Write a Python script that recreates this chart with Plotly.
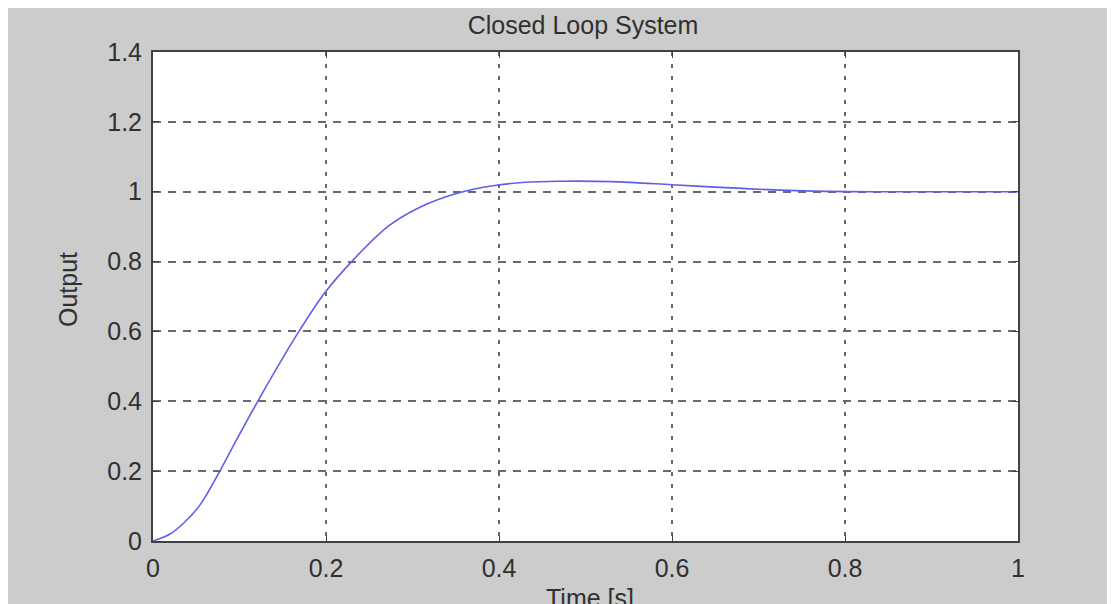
import plotly.graph_objects as go

# Step response
time_s = [0.0, 0.0197, 0.035, 0.054, 0.0755, 0.0967, 0.12, 0.145, 0.17, 0.199,
          0.2316, 0.274, 0.316, 0.355, 0.393, 0.43, 0.47, 0.53, 0.60, 0.65, 0.70,
          0.78, 0.85, 1.0]
output = [0.0, 0.020, 0.050, 0.102, 0.192, 0.290, 0.395, 0.503, 0.605, 0.712,
          0.805, 0.905, 0.964, 0.998, 1.017, 1.027, 1.030, 1.029, 1.020, 1.013, 1.007,
          1.001, 1.0, 1.0]

x_ticks = [0, 0.2, 0.4, 0.6, 0.8, 1]
x_tick_labels = ["0", "0.2", "0.4", "0.6", "0.8", "1"]
y_ticks = [0, 0.2, 0.4, 0.6, 0.8, 1, 1.2, 1.4]
y_tick_labels = ["0", "0.2", "0.4", "0.6", "0.8", "1", "1.2", "1.4"]

FONT = "Liberation Sans, Arial, sans-serif"
TXT = "#303030"
GRID = "rgb(105,105,105)"
FRAME = "rgb(65,65,65)"

fig = go.Figure()
fig.add_trace(go.Scatter(x=time_s, y=output, mode="lines", line_shape="spline",
                         line=dict(color="rgb(95,95,235)", width=1.6, smoothing=1),
                         showlegend=False, hoverinfo="skip"))

fig.update_layout(
    width=1115, height=604,
    margin=dict(l=145, r=105, t=44, b=71),
    paper_bgcolor="rgb(204,204,204)",
    plot_bgcolor="white",
    font=dict(family=FONT, size=25, color=TXT),
    title=dict(text="Closed Loop System", x=575 / 1115, xanchor="center",
               y=1 - 17 / 604, yanchor="middle",
               font=dict(family=FONT, size=25, color=TXT)),
    xaxis=dict(range=[0, 1], tickvals=x_ticks, ticktext=x_tick_labels,
               showgrid=True, gridcolor=GRID, gridwidth=2, griddash="4px,8px",
               zeroline=False, showline=True, linecolor=FRAME, linewidth=2,
               mirror="ticks", ticks="inside", ticklen=6, tickcolor=FRAME,
               ticklabelstandoff=4, tickfont=dict(size=25, color=TXT)),
    yaxis=dict(range=[0, 1.4], tickvals=y_ticks, ticktext=y_tick_labels,
               showgrid=True, gridcolor=GRID, gridwidth=2, griddash="8px,7px",
               zeroline=False, showline=True, linecolor=FRAME, linewidth=2,
               mirror="ticks", ticks="inside", ticklen=6, tickcolor=FRAME,
               ticklabelstandoff=4, tickfont=dict(size=25, color=TXT)),
    annotations=[
        dict(text="Time [s]", xref="paper", yref="paper", x=0.505, y=(541 - 598) / 489,
             xanchor="center", yanchor="middle", showarrow=False,
             font=dict(family=FONT, size=25, color=TXT)),
        dict(text="Output", xref="paper", yref="paper", x=(68 - 153) / 865,
             y=(541 - 290) / 489, textangle=-90, xanchor="center", yanchor="middle",
             showarrow=False, font=dict(family=FONT, size=25, color=TXT)),
    ],
)

fig.write_html("out.html")
